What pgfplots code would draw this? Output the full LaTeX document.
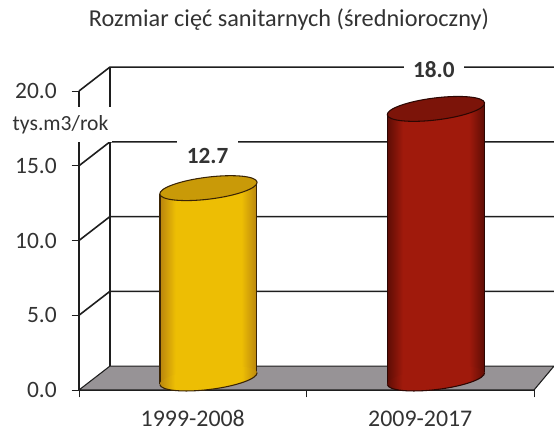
\documentclass[border=0pt]{standalone}
\usepackage{fontspec}
\setmainfont{Carlito}
\usepackage{pgfplots}
\pgfplotsset{compat=1.18}
\definecolor{ink}{HTML}{1E1E1E}
\definecolor{txt}{HTML}{333333}
\definecolor{floorc}{HTML}{979396}
\definecolor{yedge}{HTML}{B9850E}
\definecolor{ymid}{HTML}{EDBE04}
\definecolor{ytop}{HTML}{C99A08}
\definecolor{yrim}{HTML}{3A2405}
\definecolor{redge}{HTML}{5E0D05}
\definecolor{rmid}{HTML}{A01A0C}
\definecolor{rtop}{HTML}{7C1409}
\definecolor{rrim}{HTML}{2C0703}
\pgfdeclarehorizontalshading{yshade}{100bp}{color(0bp)=(yedge);color(25bp)=(yedge);color(33bp)=(ymid);color(67bp)=(ymid);color(75bp)=(yedge);color(100bp)=(yedge)}
\pgfdeclarehorizontalshading{rshade}{100bp}{color(0bp)=(redge);color(25bp)=(redge);color(33bp)=(rmid);color(67bp)=(rmid);color(75bp)=(redge);color(100bp)=(redge)}
% tilted ellipses of the cylinders; the mark's anchor is the front-most point of the ellipse
\newcommand\cylellipse[1]{\pgfpathellipse{\pgfpoint{0pt}{#1}}{\pgfpoint{36.5pt}{4.48pt}}{\pgfpoint{-1pt}{8.19pt}}}
% lower half of the base ellipse
\newcommand\cylarc{\pgfpathmoveto{\pgfpoint{-36.5pt}{4.12pt}}%
  \pgfpathcurveto{\pgfpoint{-35.948pt}{-0.403pt}}{\pgfpoint{-19.16pt}{-2.064pt}}{\pgfpoint{1pt}{0.41pt}}%
  \pgfpathcurveto{\pgfpoint{21.16pt}{2.884pt}}{\pgfpoint{37.052pt}{8.557pt}}{\pgfpoint{36.5pt}{13.08pt}}}
\pgfdeclareplotmark{cyltopY}{\pgfsetlinewidth{.8pt}\pgfsetstrokecolor{yrim}\pgfsetfillcolor{ytop}\cylellipse{9pt}\pgfusepath{fill,stroke}}
\pgfdeclareplotmark{cyltopR}{\pgfsetlinewidth{.8pt}\pgfsetstrokecolor{rrim}\pgfsetfillcolor{rtop}\cylellipse{9pt}\pgfusepath{fill,stroke}}
\pgfdeclareplotmark{cylbaseY}{\pgfsetlinewidth{.8pt}\pgfsetstrokecolor{yrim}\cylellipse{8.6pt}\pgfshadepath{yshade}{0}\pgfusepath{discard}\cylarc\pgfusepath{stroke}}
\pgfdeclareplotmark{cylbaseR}{\pgfsetlinewidth{.8pt}\pgfsetstrokecolor{rrim}\cylellipse{8.6pt}\pgfshadepath{rshade}{0}\pgfusepath{discard}\cylarc\pgfusepath{stroke}}
\begin{document}
\begin{tikzpicture}[x=1pt,y=1pt]
\path[use as bounding box] (-59.25,-28.5) rectangle (356.25,292.5);
\begin{axis}[
  at={(0pt,0pt)},anchor=south west,
  scale only axis,width=341.25pt,height=224.25pt,
  xmin=0,xmax=2,ymin=0,ymax=20,clip=false,
  axis y line=left,axis x line=bottom,
  axis line style={-,draw=ink,line width=1.2pt},
  xtick={0.5,1.5},xticklabels={1999-2008,2009-2017},
  minor xtick={0,1,2},
  ytick={0,5,10,15,20},
  major tick length=5.5pt,minor tick length=5.5pt,
  tick align=outside,
  ytick style={draw=ink,line width=.7pt},
  xtick style={draw=none},
  minor x tick style={draw=ink,line width=.7pt},
  yticklabel style={/pgf/number format/fixed,/pgf/number format/precision=1,/pgf/number format/fixed zerofill,/pgf/number format/assume math mode=true,font=\fontsize{17.6}{20}\selectfont,text=txt,inner sep=0pt,xshift=-11pt},
  xticklabel style={font=\fontsize{17.9}{20}\selectfont,text=txt,inner sep=0pt,anchor=base,yshift=-22pt},
  title={Rozmiar cięć sanitarnych (średnioroczny)},
  title style={at={(axis description cs:0.4615,1.2107)},anchor=center,yshift=0pt,font=\fontsize{18.2}{20}\selectfont,text=txt},
]
% floor
\addplot[fill=floorc,draw=ink,line width=.8pt] coordinates {(0,0)(0.136,1.6)(2.088,1.6)(2,0)(0,0)};
% back wall
\addplot[ink,line width=1.2pt] coordinates {(0.136,1.6)(0.136,21.6)};
\addplot[ink,line width=1.2pt] coordinates {(0,5)(0.136,6.6)(2.088,6.6)};
\addplot[ink,line width=1.2pt] coordinates {(0,10)(0.136,11.6)(2.088,11.6)};
\addplot[ink,line width=1.2pt] coordinates {(0,15)(0.136,16.6)(2.088,16.6)};
\addplot[ink,line width=1.2pt] coordinates {(0,20)(0.136,21.6)(2.088,21.6)};
% labels with a white plate that breaks the lines
\node[fill=white,inner sep=0pt,minimum width=75pt,minimum height=26pt] at (axis cs:-0.075,17.75) {};
\node[inner sep=0pt,font=\fontsize{16.2}{17}\selectfont,text=txt] at (axis cs:-0.081,17.73) {tys.m3/rok};
\node[fill=white,inner sep=0pt,minimum width=45.75pt,minimum height=28pt,font=\bfseries\fontsize{17.4}{20}\selectfont,text=txt] at (axis cs:0.565,15.65) {12.7};
\node[fill=white,inner sep=0pt,minimum width=45pt,minimum height=22pt,font=\bfseries\fontsize{17.4}{20}\selectfont,text=txt] at (axis cs:1.56,21.4) {18.0};
% yellow cylinder
\addplot[only marks,mark=cylbaseY] coordinates {(0.569,0)};
\addplot[draw=none,shade,shading=yshade] coordinates {(0.356,0.42)(0.782,1.18)(0.782,13.88)(0.356,13.11)(0.356,0.42)};
\addplot[yrim,line width=.8pt] coordinates {(0.356,0.42)(0.356,13.11)};
\addplot[yrim,line width=.8pt] coordinates {(0.782,1.18)(0.782,13.88)};
\addplot[only marks,mark=cyltopY] coordinates {(0.569,12.7)};
% red cylinder
\addplot[only marks,mark=cylbaseR] coordinates {(1.569,0)};
\addplot[draw=none,shade,shading=rshade] coordinates {(1.356,0.42)(1.782,1.18)(1.782,19.18)(1.356,18.41)(1.356,0.42)};
\addplot[rrim,line width=.8pt] coordinates {(1.356,0.42)(1.356,18.41)};
\addplot[rrim,line width=.8pt] coordinates {(1.782,1.18)(1.782,19.18)};
\addplot[only marks,mark=cyltopR] coordinates {(1.569,18.0)};
\end{axis}
\end{tikzpicture}
\end{document}
